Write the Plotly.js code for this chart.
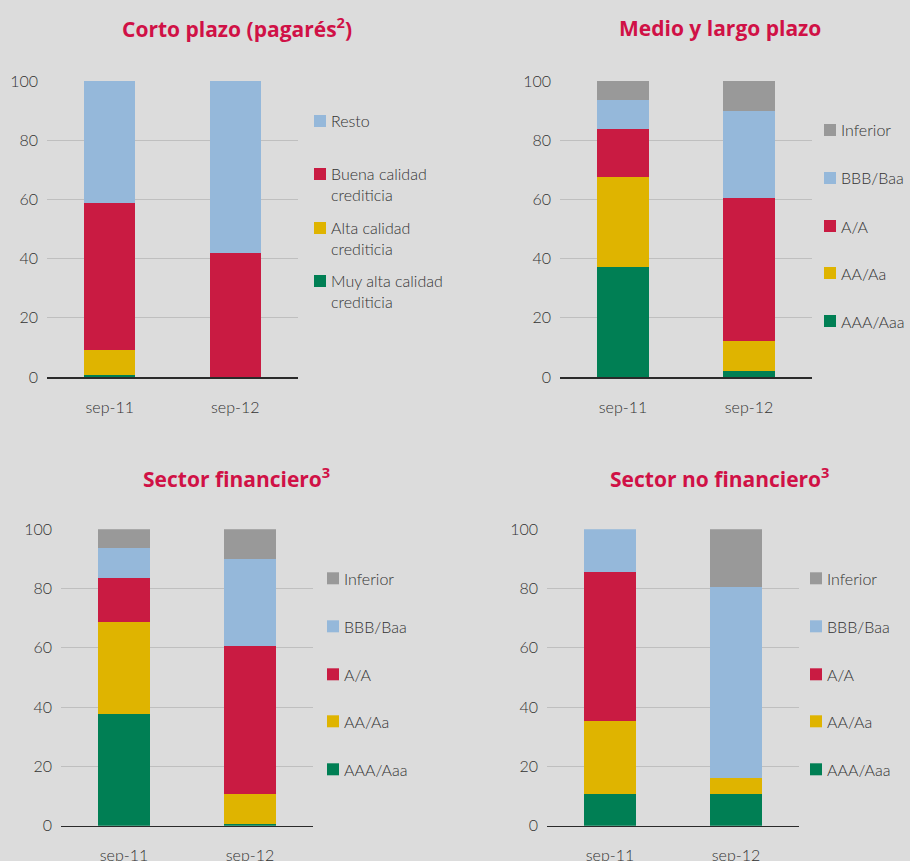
<!DOCTYPE html>
<html>
<head>
<meta charset="utf-8">
<script src="https://cdn.plot.ly/plotly-3.0.1.min.js"></script>
<style>
html,body{margin:0;padding:0;background:#dcdcdc;}
#chart{width:910px;height:861px;}
</style>
</head>
<body>
<div id="chart"></div>
<script>
// ---------- DATA ----------
const categories = ['sep-11', 'sep-12'];

// Panel 1: Corto plazo (pagarés)
const cortoNames = ['Muy alta calidad<br>crediticia', 'Alta calidad<br>crediticia', 'Buena calidad<br>crediticia', 'Resto'];
const cortoMuyAlta = [0.7, 0];
const cortoAlta = [8.4, 0];
const cortoBuena = [49.8, 41.9];
const cortoResto = [41.1, 58.1];

// Rating names (bottom to top)
const ratingNames = ['AAA/Aaa', 'AA/Aa', 'A/A', 'BBB/Baa', 'Inferior'];

// Panel 2: Medio y largo plazo
const medioAAA = [37.3, 2.1];
const medioAA = [30.3, 10.2];
const medioA = [16.2, 48.2];
const medioBBB = [9.8, 29.4];
const medioInf = [6.4, 10.1];

// Panel 3: Sector financiero
const finAAA = [37.7, 0.6];
const finAA = [31.0, 10.1];
const finA = [14.9, 49.9];
const finBBB = [10.1, 29.4];
const finInf = [6.3, 10.0];

// Panel 4: Sector no financiero
const nofinAAA = [10.7, 10.7];
const nofinAA = [24.6, 5.5];
const nofinA = [50.3, 0];
const nofinBBB = [14.4, 64.4];
const nofinInf = [0, 19.4];

const panelTitles = ['Corto plazo (pagarés<sup>2</sup>)', 'Medio y largo plazo', 'Sector financiero<sup>3</sup>', 'Sector no financiero<sup>3</sup>'];
const yTicks = [0, 20, 40, 60, 80, 100];

// ---------- STYLE ----------
const colGreen = '#007f54', colYellow = '#dfb400', colRed = '#c91b42', colBlue = '#95b8da', colGray = '#999999';
const ratingColors = [colGreen, colYellow, colRed, colBlue, colGray];
const cortoColors = [colGreen, colYellow, colRed, colBlue];
const titleColor = '#d01146';
const textColor = '#333333';
const bg = '#dcdcdc';
const W = 910, H = 861;
const FONT = 'Lato, "Open Sans", sans-serif';
const TFONT = '"Open Sans", Lato, sans-serif';
const FW = 300;

// pixel boxes of each plot area [left, right, top, bottom]
const boxes = [
  [47, 298, 81, 377],
  [560, 812, 81, 377],
  [61, 313, 529.3, 825.7],
  [547, 799, 529.3, 825.7]
];
const titlePos = [[237, 28], [720, 28], [236, 477], [720, 477]];
const legendX = [314, 824, 327, 810];

const panels = [
  {names: cortoNames, colors: cortoColors, series: [cortoMuyAlta, cortoAlta, cortoBuena, cortoResto]},
  {names: ratingNames, colors: ratingColors, series: [medioAAA, medioAA, medioA, medioBBB, medioInf]},
  {names: ratingNames, colors: ratingColors, series: [finAAA, finAA, finA, finBBB, finInf]},
  {names: ratingNames, colors: ratingColors, series: [nofinAAA, nofinAA, nofinA, nofinBBB, nofinInf]}
];

// legend item vertical offsets (px from plot top), top to bottom
const cortoLegendOffsets = [40, 93, 147, 200];
const ratingLegendOffsets = [49, 97, 145, 192, 240];

const px = x => x / W;
const py = y => 1 - y / H;

const traces = [];
const layout = {
  width: W, height: H,
  margin: {l: 0, r: 0, t: 0, b: 0},
  paper_bgcolor: bg, plot_bgcolor: bg,
  barmode: 'stack', bargap: 0.59,
  showlegend: false,
  font: {family: FONT, color: textColor, size: 16, weight: FW},
  annotations: [], shapes: []
};

panels.forEach((p, i) => {
  const k = i === 0 ? '' : String(i + 1);
  const b = boxes[i];
  p.series.forEach((vals, j) => {
    traces.push({
      type: 'bar', x: categories, y: vals, name: p.names[j].replace('<br>', ' '),
      xaxis: 'x' + k, yaxis: 'y' + k,
      marker: {color: p.colors[j], line: {width: 0}},
      hoverinfo: 'x+y+name'
    });
  });
  layout['xaxis' + k] = {
    domain: [px(b[0]), px(b[1])], anchor: 'y' + k,
    type: 'category', range: [-0.5, 1.5],
    showline: true, linecolor: '#2a2a2a', linewidth: 1.5,
    ticks: '', showgrid: false, zeroline: false,
    tickfont: {family: FONT, size: 16, color: textColor, weight: FW},
    ticklabelstandoff: 15, fixedrange: true
  };
  layout['yaxis' + k] = {
    domain: [py(b[3]), py(b[2])], anchor: 'x' + k,
    range: [0, 100], tickvals: yTicks, ticktext: yTicks.map(String),
    showgrid: true, gridcolor: '#bfbfbf', gridwidth: 1.2,
    zeroline: false, showline: false, ticks: '',
    tickfont: {family: FONT, size: 16, color: textColor, weight: FW},
    ticklabelstandoff: 8, fixedrange: true
  };
  // title
  layout.annotations.push({
    text: '<b>' + panelTitles[i] + '</b>', xref: 'paper', yref: 'paper',
    x: px(titlePos[i][0]), y: py(titlePos[i][1]), xanchor: 'center', yanchor: 'middle',
    showarrow: false, font: {family: TFONT, size: 21, color: titleColor}
  });
  // legend (top to bottom = reversed stack order)
  const offs = i === 0 ? cortoLegendOffsets : ratingLegendOffsets;
  const n = p.names.length;
  for (let m = 0; m < n; m++) {
    const j = n - 1 - m;
    const cy = b[2] + offs[m];
    layout.shapes.push({
      type: 'rect', xref: 'paper', yref: 'paper',
      x0: px(legendX[i]), x1: px(legendX[i] + 12),
      y0: py(cy + 6), y1: py(cy - 6),
      fillcolor: p.colors[j], line: {width: 0}
    });
    const multi = p.names[j].indexOf('<br>') >= 0;
    layout.annotations.push({
      text: p.names[j], xref: 'paper', yref: 'paper',
      x: px(legendX[i] + 15), y: py(multi ? cy - 12 : cy),
      xanchor: 'left', yanchor: multi ? 'top' : 'middle', align: 'left',
      showarrow: false, font: {family: FONT, size: 16, color: textColor, weight: FW}
    });
  }
});

Plotly.newPlot('chart', traces, layout, {displayModeBar: false, staticPlot: true});
</script>
</body>
</html>
